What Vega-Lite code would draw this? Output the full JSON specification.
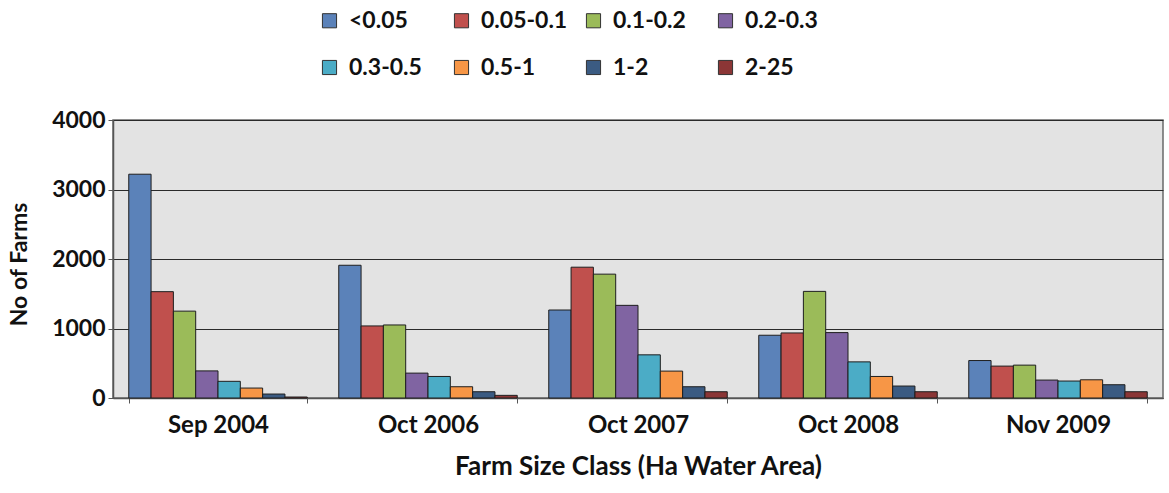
{
  "$schema": "https://vega.github.io/schema/vega-lite/v6.json",
  "autosize": "none",
  "width": 1050,
  "height": 278,
  "padding": {"left": 113, "top": 120, "right": 6, "bottom": 95},
  "background": "white",
  "config": {
    "font": "Lato",
    "view": {"fill": "#e3e3e3", "stroke": "#6a6a6a", "strokeWidth": 1.5}
  },
  "data": {
    "values": [
      {"period": "Sep 2004", "cls": "<0.05", "farms": 3220},
      {"period": "Sep 2004", "cls": "0.05-0.1", "farms": 1530},
      {"period": "Sep 2004", "cls": "0.1-0.2", "farms": 1250},
      {"period": "Sep 2004", "cls": "0.2-0.3", "farms": 390},
      {"period": "Sep 2004", "cls": "0.3-0.5", "farms": 240},
      {"period": "Sep 2004", "cls": "0.5-1", "farms": 143},
      {"period": "Sep 2004", "cls": "1-2", "farms": 57},
      {"period": "Sep 2004", "cls": "2-25", "farms": 14},
      {"period": "Oct 2006", "cls": "<0.05", "farms": 1910},
      {"period": "Oct 2006", "cls": "0.05-0.1", "farms": 1037},
      {"period": "Oct 2006", "cls": "0.1-0.2", "farms": 1051},
      {"period": "Oct 2006", "cls": "0.2-0.3", "farms": 358},
      {"period": "Oct 2006", "cls": "0.3-0.5", "farms": 310},
      {"period": "Oct 2006", "cls": "0.5-1", "farms": 162},
      {"period": "Oct 2006", "cls": "1-2", "farms": 90},
      {"period": "Oct 2006", "cls": "2-25", "farms": 38},
      {"period": "Oct 2007", "cls": "<0.05", "farms": 1266},
      {"period": "Oct 2007", "cls": "0.05-0.1", "farms": 1882},
      {"period": "Oct 2007", "cls": "0.1-0.2", "farms": 1782},
      {"period": "Oct 2007", "cls": "0.2-0.3", "farms": 1333},
      {"period": "Oct 2007", "cls": "0.3-0.5", "farms": 621},
      {"period": "Oct 2007", "cls": "0.5-1", "farms": 387},
      {"period": "Oct 2007", "cls": "1-2", "farms": 162},
      {"period": "Oct 2007", "cls": "2-25", "farms": 90},
      {"period": "Oct 2008", "cls": "<0.05", "farms": 903},
      {"period": "Oct 2008", "cls": "0.05-0.1", "farms": 936},
      {"period": "Oct 2008", "cls": "0.1-0.2", "farms": 1534},
      {"period": "Oct 2008", "cls": "0.2-0.3", "farms": 941},
      {"period": "Oct 2008", "cls": "0.3-0.5", "farms": 520},
      {"period": "Oct 2008", "cls": "0.5-1", "farms": 310},
      {"period": "Oct 2008", "cls": "1-2", "farms": 172},
      {"period": "Oct 2008", "cls": "2-25", "farms": 90},
      {"period": "Nov 2009", "cls": "<0.05", "farms": 539},
      {"period": "Nov 2009", "cls": "0.05-0.1", "farms": 459},
      {"period": "Nov 2009", "cls": "0.1-0.2", "farms": 473},
      {"period": "Nov 2009", "cls": "0.2-0.3", "farms": 258},
      {"period": "Nov 2009", "cls": "0.3-0.5", "farms": 244},
      {"period": "Nov 2009", "cls": "0.5-1", "farms": 262},
      {"period": "Nov 2009", "cls": "1-2", "farms": 191},
      {"period": "Nov 2009", "cls": "2-25", "farms": 90}
    ]
  },
  "mark": {"type": "bar", "stroke": "#1e1e1e", "strokeWidth": 1},
  "encoding": {
    "x": {
      "field": "period",
      "type": "nominal",
      "sort": ["Sep 2004", "Oct 2006", "Oct 2007", "Oct 2008", "Nov 2009"],
      "scale": {"paddingInner": 0.15, "paddingOuter": 0.075},
      "axis": {
        "title": "Farm Size Class (Ha Water Area)",
        "titleFontSize": 26,
        "titleFontWeight": "bold",
        "titleColor": "#111",
        "titlePadding": 16,
        "labelFontSize": 24,
        "labelFontWeight": "bold",
        "labelColor": "#111",
        "labelAngle": 0,
        "labelPadding": 10,
        "tickBand": "extent",
        "tickColor": "#555",
        "tickSize": 5,
        "domainColor": "#555",
        "domainWidth": 1.5,
        "grid": false
      }
    },
    "xOffset": {
      "field": "cls",
      "type": "nominal",
      "sort": ["<0.05", "0.05-0.1", "0.1-0.2", "0.2-0.3", "0.3-0.5", "0.5-1", "1-2", "2-25"],
      "scale": {"paddingInner": 0, "paddingOuter": 0}
    },
    "y": {
      "field": "farms",
      "type": "quantitative",
      "scale": {"domain": [0, 4000], "nice": false},
      "axis": {
        "title": "No of Farms",
        "titleFontSize": 23,
        "titleFontWeight": "bold",
        "titleColor": "#111",
        "titleBaseline": "middle",
        "titleX": -94,
        "titleY": 144,
        "values": [0, 1000, 2000, 3000, 4000],
        "format": "d",
        "labelFontSize": 23,
        "labelFontWeight": "bold",
        "labelColor": "#111",
        "labelPadding": 3,
        "tickColor": "#555",
        "tickSize": 5,
        "domainColor": "#555",
        "domainWidth": 1.5,
        "grid": true,
        "gridColor": "#2a2a2a",
        "gridWidth": 1.2
      }
    },
    "color": {
      "field": "cls",
      "type": "nominal",
      "sort": ["<0.05", "0.05-0.1", "0.1-0.2", "0.2-0.3", "0.3-0.5", "0.5-1", "1-2", "2-25"],
      "scale": {
        "domain": ["<0.05", "0.05-0.1", "0.1-0.2", "0.2-0.3", "0.3-0.5", "0.5-1", "1-2", "2-25"],
        "range": ["#5B82B9", "#C0504D", "#9BBB59", "#8064A2", "#4BACC6", "#F79646", "#3B5B82", "#8B3636"]
      },
      "legend": {
        "title": null,
        "orient": "none",
        "legendX": 205,
        "legendY": -111,
        "direction": "horizontal",
        "columns": 4,
        "gridAlign": "all",
        "columnPadding": 14,
        "rowPadding": 23,
        "symbolType": "square",
        "symbolSize": 200,
        "symbolStrokeColor": "#333",
        "symbolStrokeWidth": 1,
        "labelFontSize": 23,
        "labelFontWeight": "bold",
        "labelColor": "#111",
        "labelOffset": 8
      }
    }
  }
}
